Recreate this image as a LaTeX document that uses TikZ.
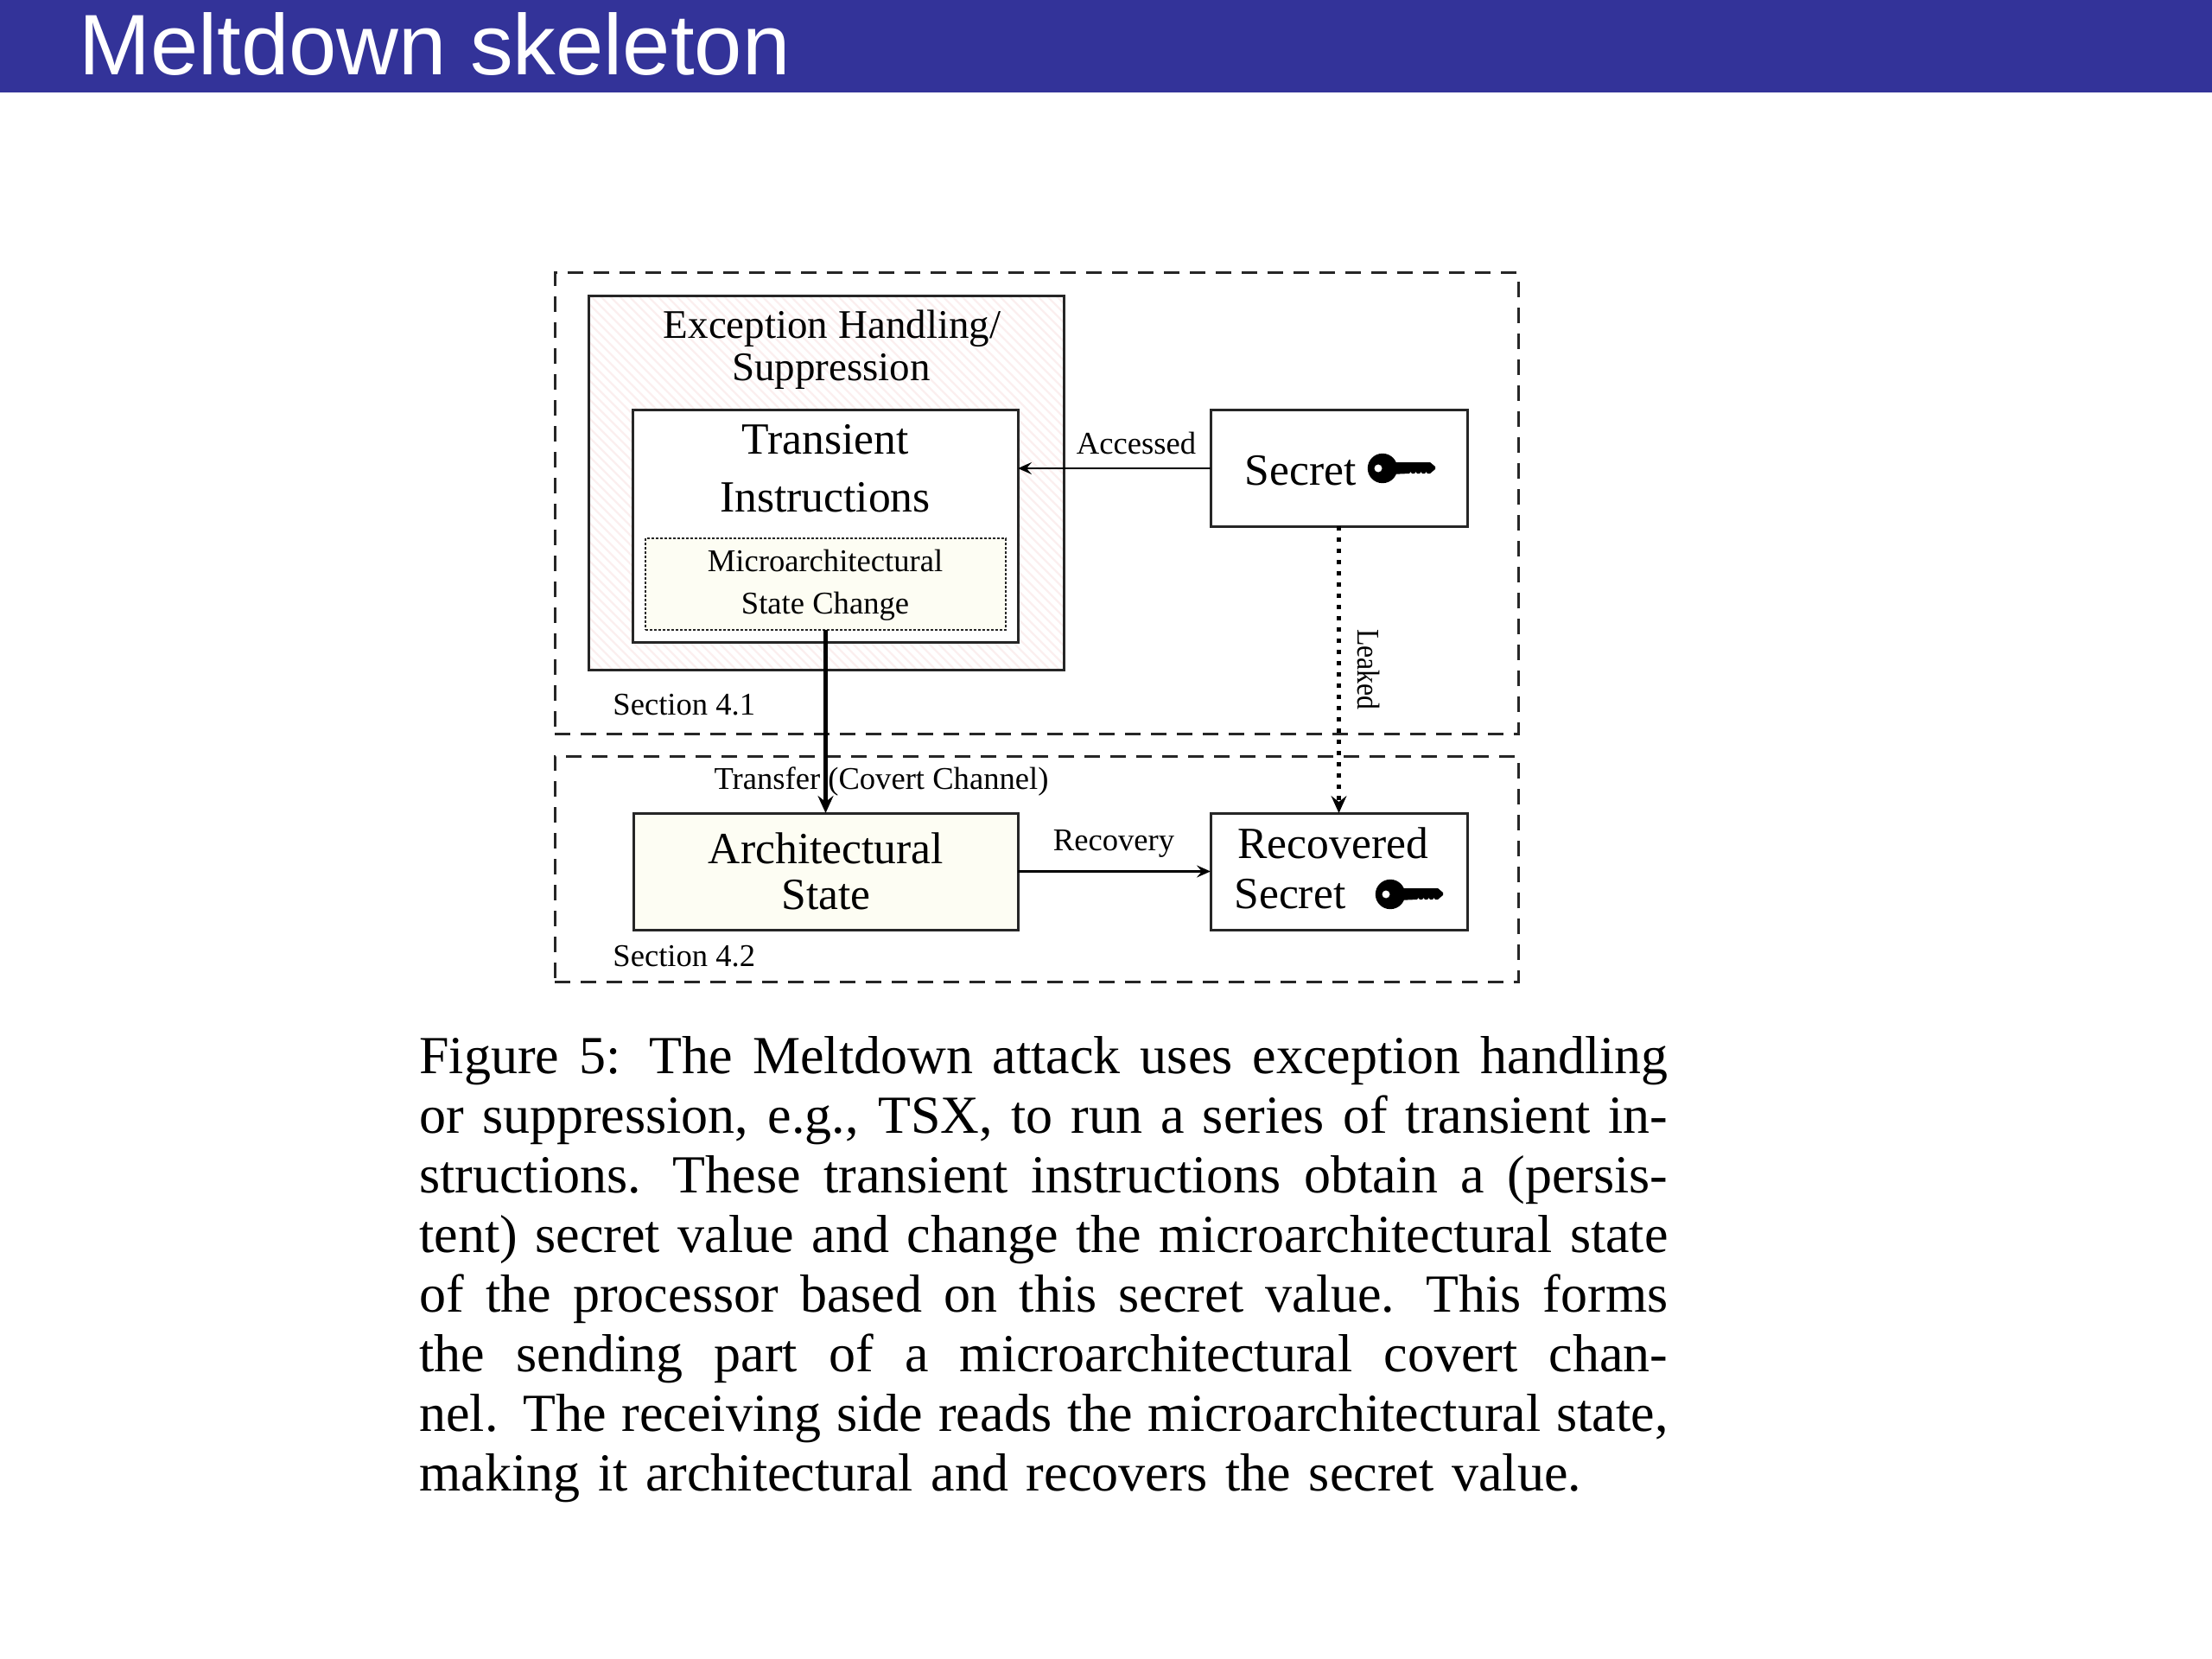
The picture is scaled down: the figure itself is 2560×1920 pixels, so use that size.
\documentclass[tikz,border=0pt]{standalone}
\usepackage{graphicx}
\usepackage{fontspec}
\setmainfont{Liberation Serif}
\newfontfamily\titlefont{Liberation Sans}
\usetikzlibrary{arrows.meta}
\definecolor{bar}{HTML}{333399}
\definecolor{ink}{HTML}{262626}
\definecolor{ivory}{HTML}{FDFDF3}
\definecolor{hatchpink}{HTML}{FBEFEF}
\newcommand\capline[1]{\hbox to 722.5pt{\spaceskip=0.25em plus 0.3em minus 0.12em\xspaceskip=0.42em plus 0.3em minus 0.12em #1}}
\tikzset{
  x=0.5pt,y=-0.5pt,
  boxshape/.style={draw=ink,line width=1.5pt,inner sep=0pt,outer sep=0pt,rectangle},
  zone/.style={draw=ink,line width=1.5pt,dash pattern=on 9pt off 6pt,inner sep=0pt,outer sep=0pt,rectangle},
  dotbox/.style={draw=ink,line width=1.1pt,dash pattern=on 1.5pt off 1pt,fill=ivory,inner sep=0pt,outer sep=0pt,rectangle},
  big/.style={font=\fontsize{25.8}{30}\selectfont,anchor=base,inner sep=0pt,text=black},
  mid/.style={font=\fontsize{23.5}{27}\selectfont,anchor=base,inner sep=0pt,text=black},
  small/.style={font=\fontsize{18.3}{22}\selectfont,anchor=base,inner sep=0pt,text=black},
  smallw/.style={small,anchor=base west},
  flow/.style={draw=black,line width=1.2pt,-{Stealth[length=8pt,width=7pt,inset=3pt]}},
  flowthick/.style={draw=black,line width=2.1pt,-{Stealth[length=10pt,width=9pt,inset=3.5pt]}},
  flowdot/.style={draw=black,line width=2.2pt,dash pattern=on 2.5pt off 4pt,-{Stealth[length=10pt,width=9pt,inset=3.5pt,line width=1pt,sep=0pt]}},
  keyicon/.pic={
    \fill[black,even odd rule] (17,0) circle[radius=8.6pt] (12,0) circle[radius=2.3pt];
    \fill[black] (26,-7) -- (72,-7) -- (78,-2) -- (78,1) -- (72,6) -- (69,6) -- (67.5,4) -- (66,6) -- (63,6) -- (61.5,4) -- (60,6) -- (57,6) -- (55.5,4) -- (54,6) -- (51,6) -- (49.5,4) -- (48,6) -- (26,7) -- cycle;
  },
}
\newcommand\bx[6]{\node[#6,minimum width=#4*0.5pt-#2*0.5pt,minimum height=#5*0.5pt-#3*0.5pt] (#1) at ({(#2+#4)/2},{(#3+#5)/2}) {};}
\begin{document}
\begin{tikzpicture}
\useasboundingbox (0,0) rectangle (2560,1920);
\fill[white] (0,0) rectangle (2560,1920);
% title bar
\node[fill=bar,inner sep=0pt,outer sep=0pt,minimum width=1280pt,minimum height=53.5pt,anchor=north west] (titlebar) at (0,0) {};
\node[font=\titlefont\fontsize{49.7}{60}\selectfont,text=white,anchor=base west,inner sep=0pt] (title) at (91,87) {Meltdown skeleton};
% zones
\bx{zoneA}{642}{316}{1757}{849}{zone}
\bx{zoneB}{642}{875}{1757}{1136}{zone}
% exception box with hatching
\begin{scope}
\clip (681,343) rectangle (1231,775);
\foreach \k in {-800,-789,...,600}{
  \draw[hatchpink,line width=1.1pt] (681+\k,343) -- (681+\k+500,843);
}
\end{scope}
\bx{exception}{681}{343}{1231}{775}{boxshape}
\bx{transient}{732}{475}{1178}{743}{boxshape,fill=white}
\bx{micro}{747}{623}{1164}{729}{dotbox}
\bx{secret}{1401}{475}{1698}{609}{boxshape}
\bx{arch}{733}{941}{1178}{1076}{boxshape,fill=ivory}
\bx{recovered}{1401}{941}{1698}{1076}{boxshape}
% texts
\node[mid] (t1) at (963,392) {Exception Handling/};
\node[mid] (t2) at (962,441) {Suppression};
\node[big] (t3) at (955,525) {Transient};
\node[big] (t4) at (955,592) {Instructions};
\node[small] (t5) at (955,661) {Microarchitectural};
\node[small] (t6) at (955,710) {State Change};
\node[big] (t7) at (1505,561) {Secret};
\node[small] (t8) at (1315,525) {Accessed};
\node[smallw] (t9) at (709,827) {Section 4.1};
\node[smallw] (t10) at (709,1118) {Section 4.2};
\node[small] (t11) at (1020,913) {Transfer (Covert Channel)};
\node[small,rotate=-90] (t12) at (1571,775) {\scalebox{0.87}[1]{Leaked}};
\node[small] (t13) at (1289,984) {Recovery};
\node[big] (t14) at (956,999) {Architectural};
\node[big] (t15) at (956,1052) {State};
\node[big,anchor=base west] (t16) at (1432,993) {Recovered};
\node[big,anchor=base west] (t17) at (1428,1051) {Secret};
\pic at (1583,542) {keyicon};
\pic at (1592,1035) {keyicon};
% connectors
\draw[flow] (secret.west) -- (secret.west -| transient.east);
\draw[flowthick] (micro.south) -- (arch.north);
\draw[flowdot] (secret.south) -- (recovered.north);
\draw[flow] (arch.east) -- (recovered.west);
% caption
\node[anchor=north west,inner sep=0pt,align=left,text width=722.5pt,font=\fontsize{31}{34.5}\selectfont] (caption) at (485,1199) {%
\capline{Figure 5: The Meltdown attack uses exception handling}
\capline{or suppression, e.g., TSX, to run a series of transient in-}
\capline{structions. These transient instructions obtain a (persis-}
\capline{tent) secret value and change the microarchitectural state}
\capline{of the processor based on this secret value. This forms}
\capline{the sending part of a microarchitectural covert chan-}
\capline{nel. The receiving side reads the microarchitectural state,}
\hbox{making it architectural and recovers the secret value.}};
\end{tikzpicture}
\end{document}
